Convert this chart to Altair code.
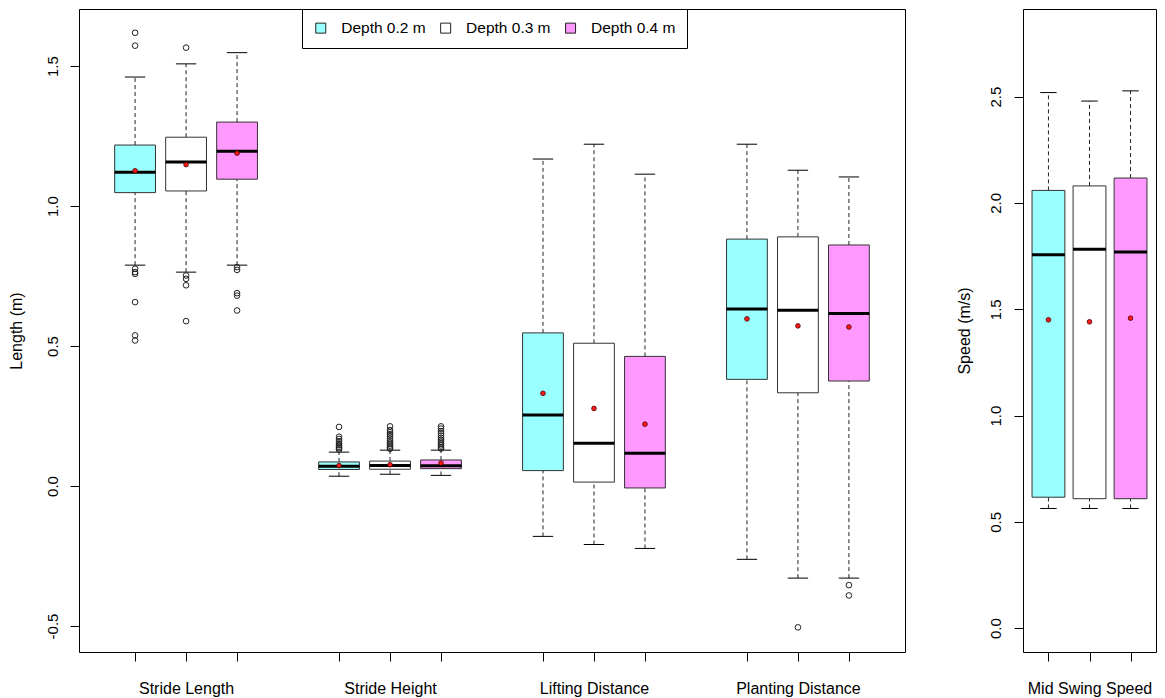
import altair as alt
import pandas as pd

# ---------------- data ----------------
groups = ["Stride Length", "Stride Height", "Lifting Distance", "Planting Distance"]
depths = ["Depth 0.2 m", "Depth 0.3 m", "Depth 0.4 m"]
fill_colors = ["#99FFFF", "#FFFFFF", "#FF99FF"]

# rows: groups, columns: depths (0.2, 0.3, 0.4 m)
whisker_low = [[0.789, 0.764, 0.789], [0.035, 0.042, 0.038], [-0.180, -0.209, -0.223], [-0.262, -0.329, -0.329]]
quart_1 = [[1.048, 1.054, 1.096], [0.059, 0.060, 0.062], [0.055, 0.014, -0.007], [0.381, 0.333, 0.375]]
medians = [[1.121, 1.157, 1.196], [0.071, 0.073, 0.072], [0.254, 0.153, 0.117], [0.632, 0.628, 0.616]]
quart_3 = [[1.218, 1.246, 1.300], [0.086, 0.089, 0.093], [0.547, 0.510, 0.463], [0.882, 0.890, 0.861]]
whisker_high = [[1.461, 1.508, 1.548], [0.121, 0.128, 0.128], [1.168, 1.221, 1.114], [1.221, 1.128, 1.104]]
means = [[1.126, 1.148, 1.189], [0.073, 0.076, 0.082], [0.331, 0.277, 0.221], [0.597, 0.572, 0.568]]

outliers_stride_length = [
    [1.619, 1.573, 0.776, 0.764, 0.758, 0.657, 0.538, 0.520],
    [1.566, 0.752, 0.740, 0.717, 0.589],
    [0.782, 0.772, 0.689, 0.680, 0.627],
]
outliers_stride_height = [
    [0.211, 0.176, 0.168, 0.160, 0.152, 0.146, 0.140, 0.135, 0.130],
    [0.213, 0.200, 0.192, 0.185, 0.178, 0.170, 0.163, 0.156, 0.150, 0.144, 0.138, 0.133],
    [0.213, 0.205, 0.196, 0.188, 0.180, 0.172, 0.165, 0.158, 0.151, 0.145, 0.139, 0.134],
]
outliers_lifting = [[], [], []]
outliers_planting = [[], [-0.505], [-0.354, -0.391]]
outliers_all = [outliers_stride_length, outliers_stride_height, outliers_lifting, outliers_planting]

speed_group = "Mid Swing Speed"
speed_whisker_low = [0.563, 0.563, 0.563]
speed_q1 = [0.616, 0.609, 0.609]
speed_median = [1.756, 1.782, 1.769]
speed_q3 = [2.059, 2.080, 2.117]
speed_whisker_high = [2.519, 2.479, 2.527]
speed_mean = [1.450, 1.441, 1.458]

# ---------------- tables ----------------
box_rows, out_rows = [], []
for gi, g in enumerate(groups):
    for di, d in enumerate(depths):
        pos = gi * 4 + di + 1
        box_rows.append(dict(group=g, depth=d, pos=pos, lo=whisker_low[gi][di], q1=quart_1[gi][di],
                             med=medians[gi][di], q3=quart_3[gi][di], hi=whisker_high[gi][di],
                             mean=means[gi][di]))
        for v in outliers_all[gi][di]:
            out_rows.append(dict(group=g, depth=d, pos=pos, value=v))
box_df = pd.DataFrame(box_rows)
out_df = pd.DataFrame(out_rows)

speed_df = pd.DataFrame(dict(group=speed_group, depth=depths, pos=[1, 2, 3], lo=speed_whisker_low,
                             q1=speed_q1, med=speed_median, q3=speed_q3, hi=speed_whisker_high,
                             mean=speed_mean))

FONT = "Liberation Sans"


def boxplot(df, odf, xdomain, label_map, ydomain, yvalues, ytitle, label_pad, title_pad,
            width, height, legend):
    xvals = sorted(df["pos"].tolist())
    expr = " : ".join(f"datum.value == {k} ? '{v}'" for k, v in label_map.items()) + " : ''"
    xscale = alt.Scale(domain=xdomain, nice=False, zero=False)
    xaxis = alt.Axis(values=xvals, labelExpr=expr, title=None, grid=False, domain=False,
                     tickSize=9, tickColor="black", labelPadding=19, labelFontSize=16,
                     labelFont=FONT, labelColor="black", labelOverlap=False, labelFlush=False)
    yscale = alt.Scale(domain=ydomain, nice=False, zero=False)
    yaxis = alt.Axis(values=yvalues, title=ytitle, grid=False, domain=False, tickSize=9,
                     tickColor="black", labelAngle=270, labelAlign="center",
                     labelBaseline="alphabetic", labelPadding=label_pad, labelFontSize=15,
                     labelFont=FONT, labelColor="black",
                     labelExpr="datum.value < 0 ? '-' + format(-datum.value, '.1f') : format(datum.value, '.1f')",
                     titleFont=FONT, titleFontSize=16, titleFontWeight="normal", titleColor="black",
                     titlePadding=title_pad)

    base = alt.Chart(df).transform_calculate(
        bl="datum.pos - 0.4", br="datum.pos + 0.4", cl="datum.pos - 0.2", cr="datum.pos + 0.2")

    whisk_hi = base.mark_rule(color="#222222", strokeWidth=1, strokeDash=[4, 3]).encode(
        x=alt.X("pos:Q", scale=xscale, axis=xaxis), y=alt.Y("q3:Q", scale=yscale, axis=yaxis), y2="hi:Q")
    whisk_lo = base.mark_rule(color="#222222", strokeWidth=1, strokeDash=[4, 3]).encode(
        x=alt.X("pos:Q", scale=xscale, axis=xaxis), y=alt.Y("lo:Q", scale=yscale, axis=yaxis), y2="q1:Q")
    cap_hi = base.mark_rule(color="black", strokeWidth=1).encode(
        x=alt.X("cl:Q", scale=xscale, axis=xaxis), x2="cr:Q", y=alt.Y("hi:Q", scale=yscale, axis=yaxis))
    cap_lo = base.mark_rule(color="black", strokeWidth=1).encode(
        x=alt.X("cl:Q", scale=xscale, axis=xaxis), x2="cr:Q", y=alt.Y("lo:Q", scale=yscale, axis=yaxis))
    boxes = base.mark_rect(stroke="#333333", strokeWidth=1, opacity=1).encode(
        x=alt.X("bl:Q", scale=xscale, axis=xaxis), x2="br:Q",
        y=alt.Y("q1:Q", scale=yscale, axis=yaxis), y2="q3:Q",
        fill=alt.Fill("depth:N", scale=alt.Scale(domain=depths, range=fill_colors), legend=legend))
    med = base.mark_rule(color="black", strokeWidth=3).encode(
        x=alt.X("bl:Q", scale=xscale, axis=xaxis), x2="br:Q", y=alt.Y("med:Q", scale=yscale, axis=yaxis))
    mean_pts = base.mark_point(shape="circle", filled=True, fill="#FF1A1A", stroke="#4a0000",
                               strokeWidth=0.8, size=22, opacity=1).encode(
        x=alt.X("pos:Q", scale=xscale, axis=xaxis), y=alt.Y("mean:Q", scale=yscale, axis=yaxis))
    layers = [whisk_hi, whisk_lo, cap_hi, cap_lo, boxes, med]
    if odf is not None and len(odf):
        outs = alt.Chart(odf).mark_point(shape="circle", filled=False, stroke="#222222",
                                         strokeWidth=1, size=32, opacity=1).encode(
            x=alt.X("pos:Q", scale=xscale, axis=xaxis), y=alt.Y("value:Q", scale=yscale, axis=yaxis))
        layers.append(outs)
    layers.append(mean_pts)
    return alt.layer(*layers).properties(width=width, height=height)


legend = alt.Legend(orient="none", legendX=223, legendY=0, direction="horizontal", title=None,
                    fillColor="white", strokeColor="black", padding=11, symbolType="square",
                    symbolSize=100, symbolStrokeColor="#222222", symbolStrokeWidth=1,
                    labelFont=FONT, labelFontSize=15.5, labelColor="black", labelOffset=12.7,
                    columnPadding=11.9)

left = boxplot(box_df, out_df, [-0.1, 16.1], {gi * 4 + 2: g for gi, g in enumerate(groups)},
               [-0.593, 1.704], [-0.5, 0.0, 0.5, 1.0, 1.5], "Length (m)", 13, 21, 826, 643, legend)
right = boxplot(speed_df, None, [0.38, 3.62], {2: speed_group},
                [-0.112, 2.912], [0.0, 0.5, 1.0, 1.5, 2.0, 2.5], "Speed (m/s)", 14, 16, 133, 643, None)

chart = alt.hconcat(left, right, spacing=49).resolve_scale(
    x="independent", y="independent", fill="independent"
).properties(
    padding={"left": -1, "top": 0, "right": 0, "bottom": 0}
).configure(background="white").configure_view(stroke="black", strokeWidth=1)

chart.save("out.html", embed_options={"renderer": "svg", "actions": False})
